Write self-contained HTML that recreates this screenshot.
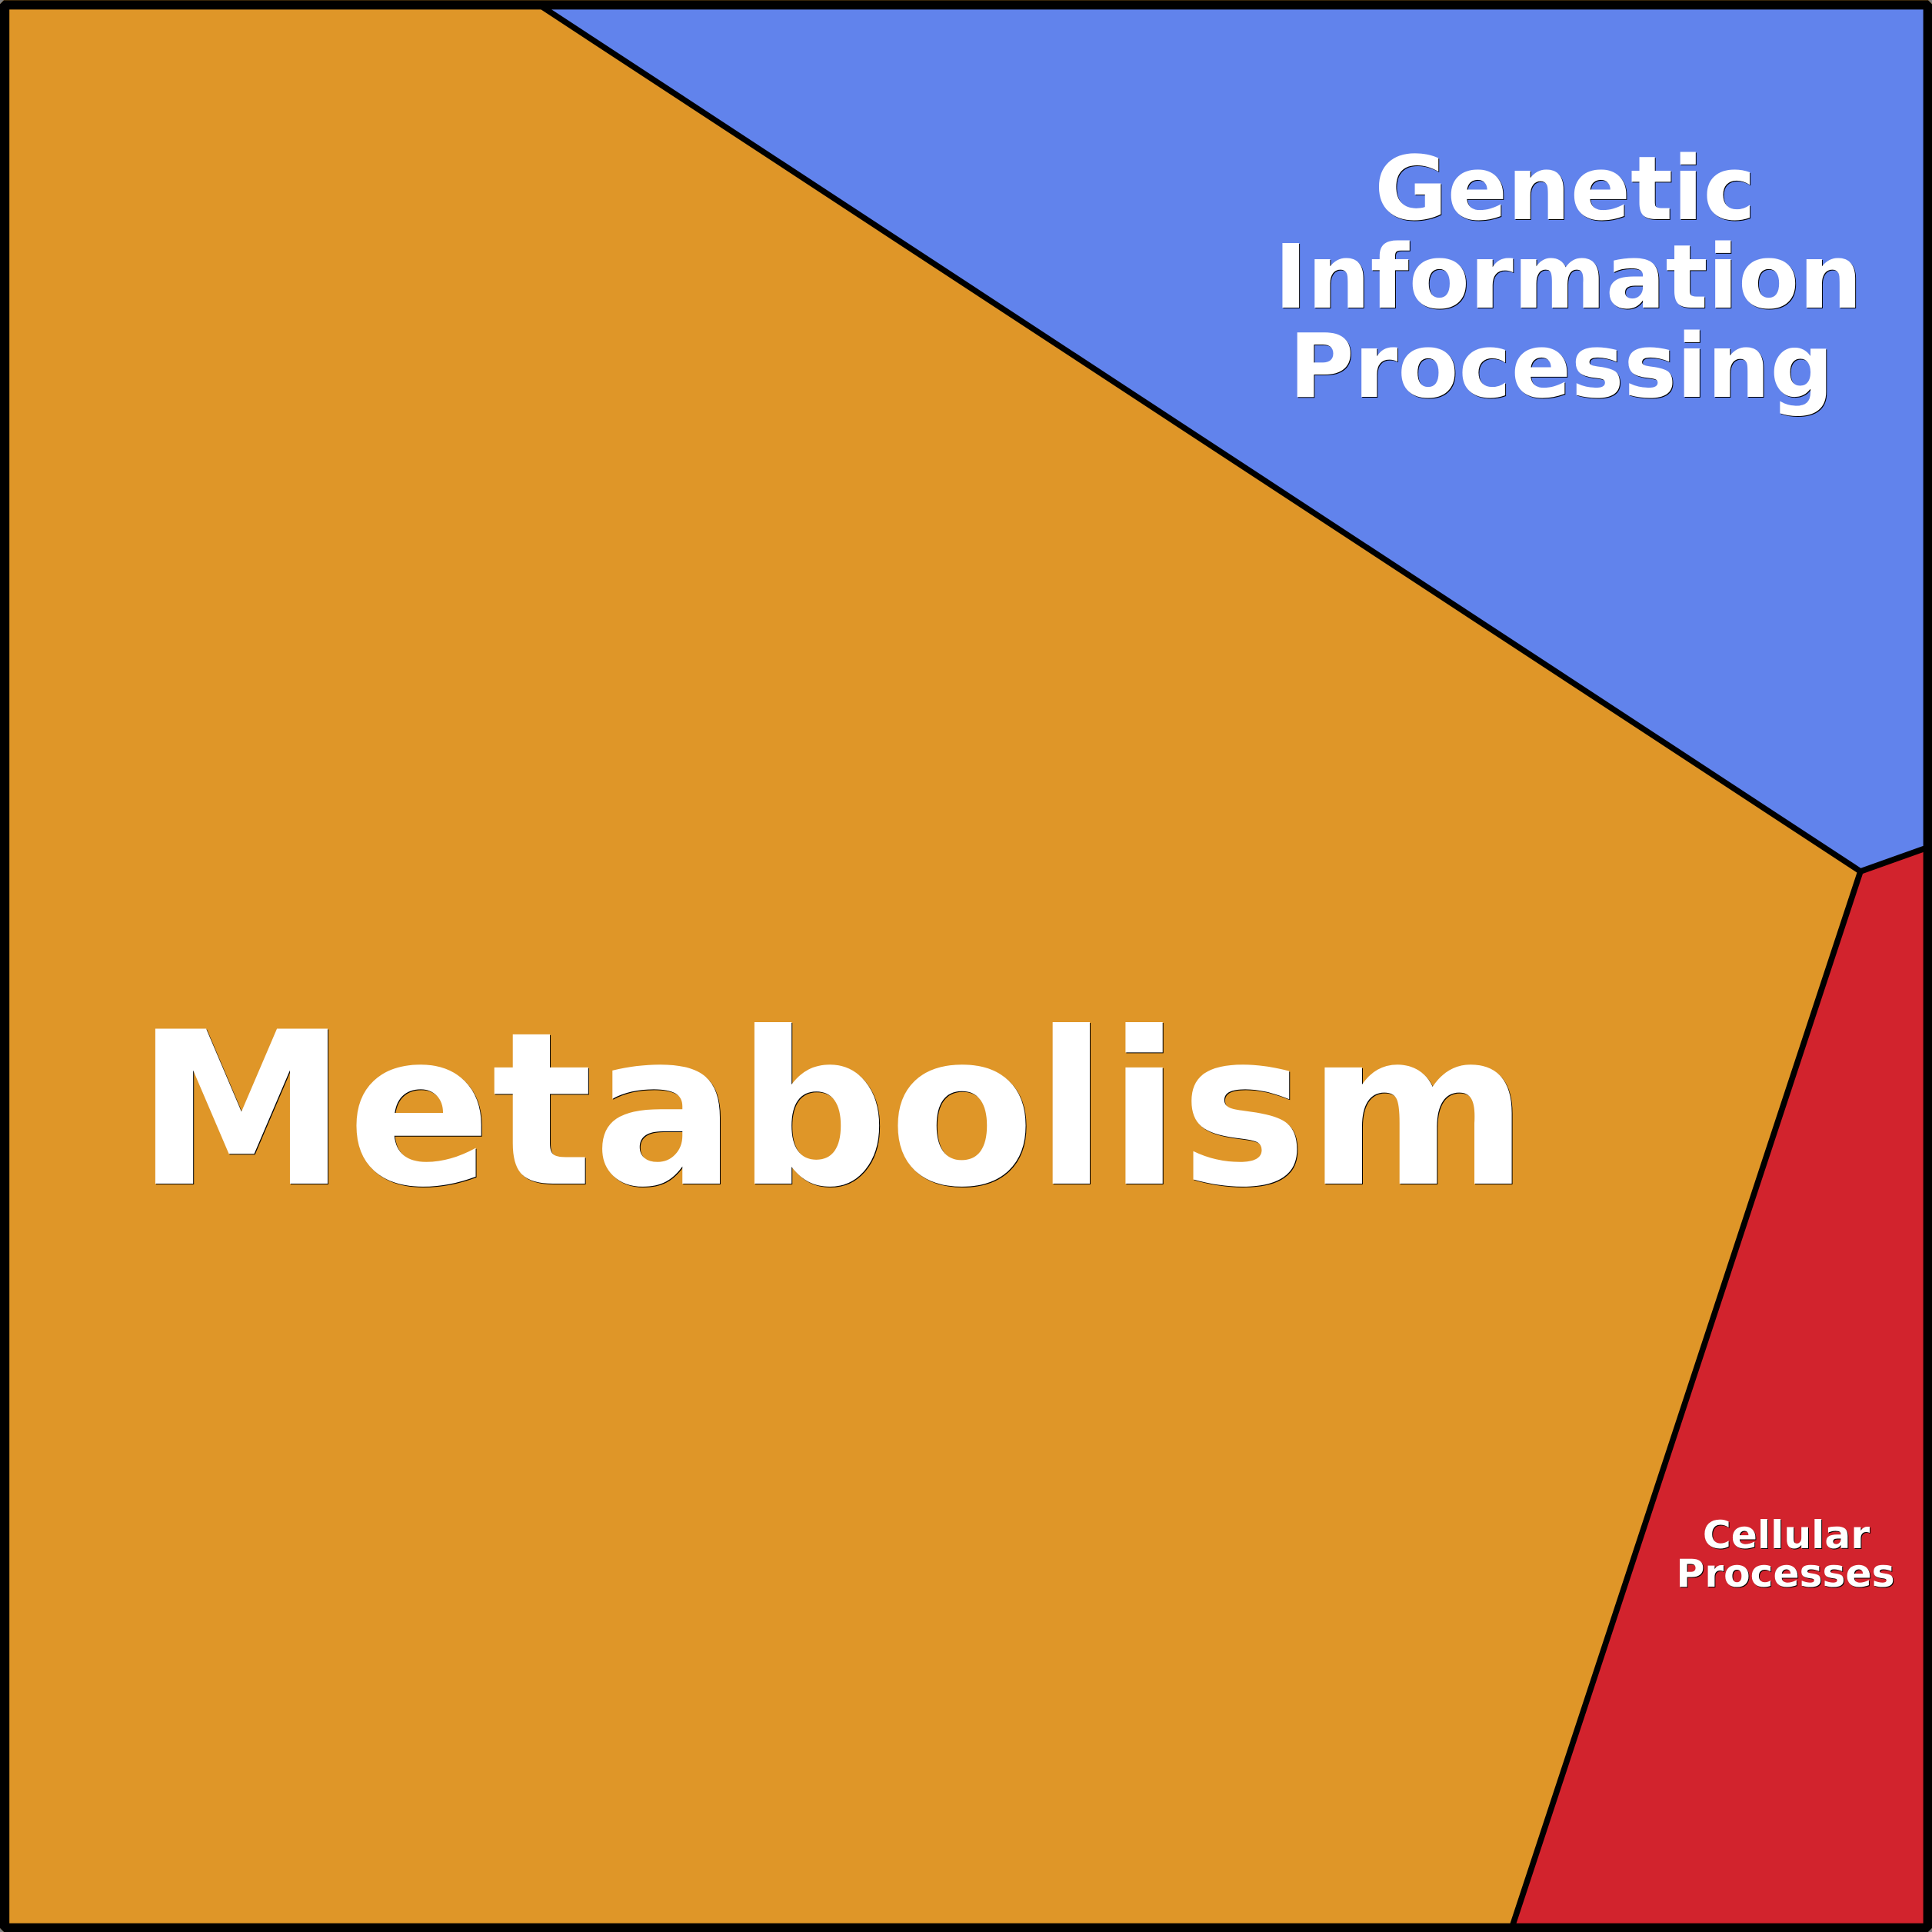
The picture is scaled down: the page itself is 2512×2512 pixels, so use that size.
<!DOCTYPE html>
<html><head><meta charset="utf-8"><style>
html,body{margin:0;padding:0;background:#fff}
svg{display:block}
text{font-family:"DejaVu Sans",sans-serif;font-weight:bold;text-anchor:middle}
.w{fill:#fff}.k{fill:#000}
</style></head><body>
<svg xmlns="http://www.w3.org/2000/svg" width="2512" height="2512" viewBox="0 0 2512 2512">
<rect x="0" y="0" width="2512" height="2512" fill="#DF9628"/>
<polygon points="700.6,6 2506,6 2506,1102 2419,1133" fill="#6183EC"/>
<polygon points="2419,1133 2506,1102 2506,2506 1965.8,2506" fill="#D2232D"/>
<polyline points="700.6,6 2419,1133 2506,1102" fill="none" stroke="#000" stroke-width="7.6"/>
<line x1="2419" y1="1133" x2="1965.8" y2="2506" stroke="#000" stroke-width="7.6"/>
<path fill-rule="evenodd" fill="#000" d="M5,0.3H2507L2512,5.3V2507L2507,2512H5L0,2507V5.3Z M12.2,12.4V2500.6H2500.6V12.4Z"/>
<path fill="#808080" d="M0,0H5L0,5Z M2512,0V5L2507,0Z M0,2512V2507L5,2512Z M2512,2512H2507L2512,2507Z"/>
<text class="k" x="1083" y="1540" font-size="276.4">Metabolism</text>
<text class="w" x="1082" y="1539" font-size="276.4">Metabolism</text>
<g font-size="115.2">
<text class="k" x="2036" y="286">Genetic</text>
<text class="k" x="2040" y="401">Information</text>
<text class="k" x="2031" y="517">Processing</text>
<text class="w" x="2035" y="285">Genetic</text>
<text class="w" x="2039" y="400">Information</text>
<text class="w" x="2030" y="516">Processing</text>
</g>
<g font-size="50.3">
<text class="k" x="2323.5" y="2014">Cellular</text>
<text class="k" x="2322.5" y="2064">Processes</text>
<text class="w" x="2322.5" y="2013">Cellular</text>
<text class="w" x="2321.5" y="2063">Processes</text>
</g>
</svg>
</body></html>
